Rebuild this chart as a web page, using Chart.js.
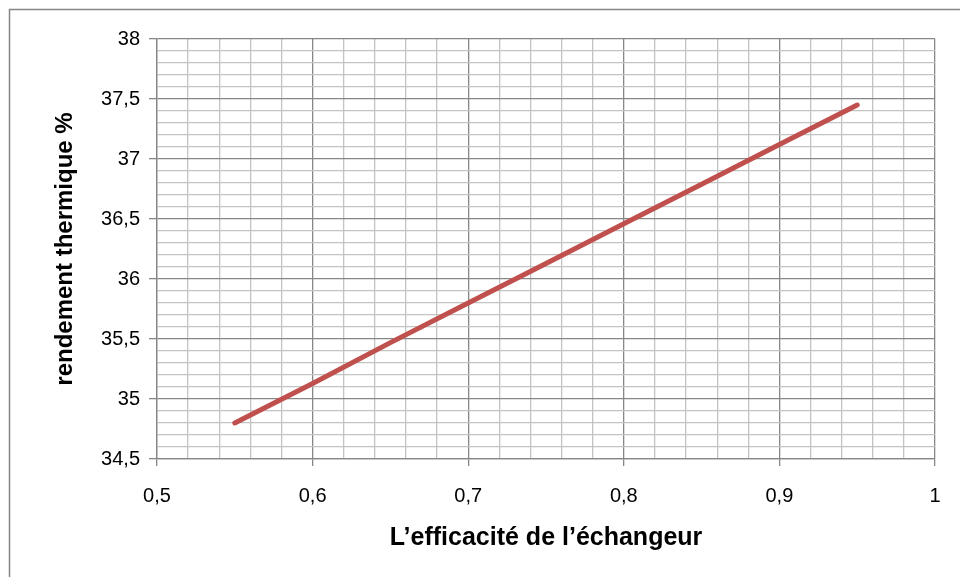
<!doctype html>
<html>
<head>
<title>Rendement thermique</title>
<script src="https://cdnjs.cloudflare.com/ajax/libs/Chart.js/4.4.1/chart.umd.min.js"></script>
<style>
  html, body { margin: 0; padding: 0; background: #fff; }
  #container { width: 960px; height: 577px; }
</style>
</head>
<body>
<div id="container"><canvas id="line-chart"></canvas></div>
<script>
// values
var efficacite = [0.55, 0.6, 0.65, 0.7, 0.75, 0.8, 0.85, 0.9, 0.95];
var rendement = [34.80, 35.13, 35.47, 35.80, 36.13, 36.46, 36.79, 37.12, 37.45];

var xMin = 0.5, xMax = 1, xStep = 0.02;
var yMin = 34.5, yMax = 38, yStep = 0.1;

var points = [];
for (var i = 0; i < efficacite.length; i++) {
  points.push({ x: efficacite[i], y: rendement[i] });
}

function isMajor(v, unit) {
  return Math.round(v * 100) % unit === 0;
}
function frLabel(v) {
  return String(Math.round(v * 10) / 10).replace('.', ',');
}

var majorColor = '#878787';
var minorColor = '#c3c3c3';
var fontFamily = "'Liberation Sans', Arial, sans-serif";

// gray frame around the whole chart
var frame = {
  id: 'frame',
  beforeDraw: function(chart) {
    var ctx = chart.ctx;
    ctx.save();
    ctx.strokeStyle = '#868686';
    ctx.lineWidth = 1.5;
    ctx.beginPath();
    ctx.moveTo(9.5, 577);
    ctx.lineTo(9.5, 9.5);
    ctx.lineTo(960, 9.5);
    ctx.stroke();
    ctx.restore();
  }
};

new Chart(document.getElementById('line-chart'), {
  type: 'line',
  data: {
    datasets: [{
      data: points,
      borderColor: '#c0504d',
      borderWidth: 5,
      borderCapStyle: 'round',
      pointRadius: 0,
      tension: 0,
      fill: false
    }]
  },
  options: {
    responsive: true,
    maintainAspectRatio: false,
    animation: false,
    events: [],
    layout: { padding: { top: 39, right: 25, left: 0, bottom: 0 } },
    plugins: { legend: { display: false }, tooltip: { enabled: false } },
    scales: {
      x: {
        type: 'linear',
        min: xMin,
        max: xMax,
        afterFit: function(s) { s.height = 577 - 459; },
        border: { color: majorColor, width: 1.3 },
        grid: {
          lineWidth: 1.3,
          tickLength: 7,
          color: function(c) { return isMajor(c.tick.value, 10) ? majorColor : minorColor; },
          tickColor: function(c) { return isMajor(c.tick.value, 10) ? majorColor : 'rgba(0,0,0,0)'; }
        },
        ticks: {
          stepSize: xStep,
          autoSkip: false,
          maxTicksLimit: 200,
          maxRotation: 0,
          padding: 18,
          color: '#000',
          font: { family: fontFamily, size: 20 },
          callback: function(v) { return isMajor(v, 10) ? frLabel(v) : ''; }
        },
        title: {
          display: true,
          text: 'L\u2019efficacité de l\u2019échangeur',
          color: '#000',
          font: { family: fontFamily, size: 25, weight: 'bold' },
          padding: { top: 10, bottom: 24 }
        }
      },
      y: {
        type: 'linear',
        min: yMin,
        max: yMax,
        afterFit: function(s) { s.width = 157; },
        border: { color: majorColor, width: 1.3 },
        grid: {
          lineWidth: 1.3,
          tickLength: 8,
          color: function(c) { return isMajor(c.tick.value, 50) ? majorColor : minorColor; },
          tickColor: function(c) { return isMajor(c.tick.value, 50) ? majorColor : 'rgba(0,0,0,0)'; }
        },
        ticks: {
          stepSize: yStep,
          autoSkip: false,
          maxTicksLimit: 200,
          padding: 9,
          color: '#000',
          font: { family: fontFamily, size: 20 },
          callback: function(v) { return isMajor(v, 50) ? frLabel(v) : ''; }
        },
        title: {
          display: true,
          text: 'rendement thermique %',
          color: '#000',
          font: { family: fontFamily, size: 24, weight: 'bold' },
          padding: { top: 51, bottom: 0 }
        }
      }
    }
  },
  plugins: [frame]
});
</script>
</body>
</html>
